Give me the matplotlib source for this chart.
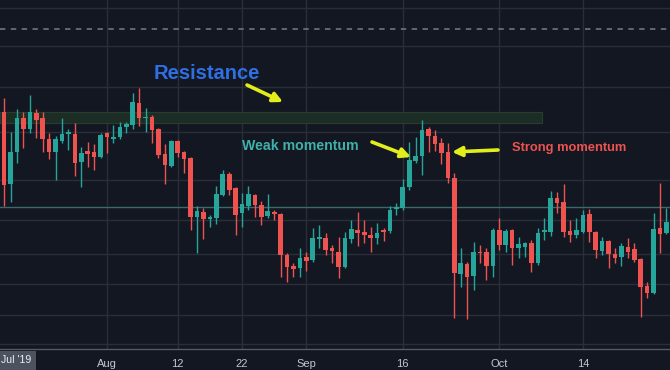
import matplotlib
matplotlib.use('Agg')
import matplotlib.pyplot as plt
import matplotlib.dates as mdates
import numpy as np
import pandas as pd

# ---------------- data (ETH/USD daily) ----------------
dates = pd.date_range('2019-07-16', periods=105, freq='D')

opens = [226.8, 201.6, 212.8, 224.7, 220.9, 226.5, 224.7, 217.4, 212.8, 216.7,
         219.1, 219.1, 209.3, 213.2, 212.8, 211.1, 219.5, 217.4, 218.1, 221.6,
         222.3, 230.0, 224.7, 225.1, 220.9, 212.1, 207.9, 216.7, 212.8, 210.7,
         190.1, 191.8, 189.4, 189.7, 197.8, 205.1, 200.2, 191.5, 193.9, 197.8,
         194.3, 190.4, 191.8, 191.1, 176.8, 172.9, 172.2, 176.1, 175.0, 182.4,
         182.7, 179.2, 177.8, 172.6, 182.4, 185.5, 184.8, 183.8, 182.7, 185.5,
         185.2, 192.9, 193.2, 200.6, 209.7, 211.4, 220.9, 218.4, 216.0, 212.8,
         203.7, 170.1, 173.6, 169.4, 177.8, 177.8, 172.9, 185.5, 180.3, 185.5,
         179.2, 179.6, 181.0, 174.0, 184.8, 184.8, 196.7, 195.3, 185.2, 183.8,
         184.8, 191.1, 184.8, 178.2, 181.7, 177.1, 176.1, 179.6, 178.9, 175.4,
         165.9, 163.5, 186.2, 184.5, 188.7]

highs = [231.7, 219.8, 227.9, 226.8, 232.8, 227.9, 226.8, 219.5, 218.4, 224.7,
         220.9, 223.0, 214.6, 216.3, 215.6, 219.5, 219.8, 222.3, 223.3, 223.3,
         233.5, 235.2, 228.2, 225.8, 221.2, 215.6, 217.0, 217.0, 213.2, 211.1,
         193.9, 193.2, 190.8, 200.9, 206.5, 205.8, 200.6, 198.5, 200.9, 198.1,
         195.7, 198.1, 192.5, 191.5, 177.5, 174.0, 179.2, 177.8, 186.2, 187.3,
         184.5, 180.3, 183.1, 184.8, 189.0, 191.8, 189.0, 186.6, 188.0, 186.2,
         193.9, 195.0, 203.4, 216.3, 218.1, 224.0, 221.6, 220.5, 217.7, 216.0,
         205.5, 179.2, 174.3, 181.3, 180.3, 179.2, 186.2, 189.7, 185.9, 185.9,
         183.1, 181.3, 182.0, 186.2, 189.7, 199.2, 198.8, 201.6, 189.0, 189.7,
         192.5, 192.9, 185.2, 183.1, 182.0, 179.2, 181.0, 182.7, 181.0, 175.7,
         167.3, 191.5, 202.0, 193.2, 193.2]

lows = [193.9, 195.3, 209.0, 214.2, 219.5, 217.7, 212.8, 210.4, 203.0, 216.0,
        213.5, 204.4, 200.6, 207.6, 206.5, 210.7, 212.5, 216.0, 217.4, 219.5,
        220.9, 221.9, 219.8, 216.0, 210.7, 201.6, 207.6, 211.1, 205.5, 185.5,
        177.5, 182.4, 186.6, 187.6, 197.4, 197.8, 183.8, 186.6, 192.5, 190.1,
        187.3, 189.7, 189.0, 169.1, 167.3, 169.1, 169.1, 171.2, 174.3, 179.2,
        176.8, 174.0, 168.7, 172.2, 181.0, 179.9, 181.0, 177.8, 180.6, 181.7,
        184.5, 190.8, 192.5, 199.5, 209.0, 204.8, 212.8, 213.2, 208.6, 202.0,
        154.7, 165.6, 154.4, 164.5, 174.0, 168.0, 169.1, 178.5, 177.8, 173.3,
        175.7, 176.1, 170.8, 173.3, 182.0, 183.4, 191.5, 183.1, 181.3, 182.7,
        184.5, 181.3, 175.7, 176.8, 172.2, 174.0, 172.9, 175.7, 174.3, 155.1,
        161.7, 163.1, 177.5, 184.1, 185.5]

closes = [201.3, 212.8, 224.7, 220.9, 226.8, 224.0, 217.4, 212.8, 217.4, 219.1,
          219.8, 209.0, 212.5, 212.1, 211.1, 218.8, 218.1, 218.1, 221.6, 222.6,
          230.3, 224.7, 225.1, 220.5, 211.8, 208.3, 216.7, 212.5, 210.4, 190.1,
          192.2, 189.4, 190.1, 198.1, 205.1, 199.5, 190.8, 194.6, 198.1, 194.3,
          190.1, 192.2, 191.1, 176.8, 172.6, 171.9, 175.7, 174.7, 182.7, 183.1,
          178.5, 178.2, 172.6, 182.7, 185.9, 184.5, 183.8, 182.7, 184.5, 184.8,
          192.5, 193.6, 200.6, 210.0, 211.4, 220.5, 218.4, 215.6, 212.5, 203.7,
          170.5, 174.0, 169.1, 177.8, 177.5, 172.9, 185.5, 180.3, 185.2, 179.2,
          180.6, 181.0, 174.0, 184.5, 185.5, 196.7, 195.0, 184.8, 183.8, 185.5,
          190.8, 184.8, 178.5, 181.7, 177.1, 175.7, 179.9, 177.8, 175.0, 165.6,
          163.5, 185.9, 184.1, 188.3, 185.9]

tick_dates = ['2019-08-01', '2019-08-12', '2019-08-22', '2019-09-01',
              '2019-09-16', '2019-10-01', '2019-10-14']
tick_labels = ['Aug', '12', '22', 'Sep', '16', 'Oct', '14']

grid_levels = [263.2, 249.9, 235.55, 219.8, 203.0, 189.0, 177.1, 166.6, 155.75, 145.6]
support_level = 193.6
dashed_level = 255.85
resistance_low, resistance_high = 222.8, 226.8
resistance_end = '2019-10-07 15:00'

# ---------------- style ----------------
BG = '#131722'
GRID = '#2a2e39'
UP = '#26a69a'
DOWN = '#ef5350'
YELLOW = '#e2ee1c'
FONT = ['Liberation Sans', 'DejaVu Sans']

fig = plt.figure(figsize=(6.7, 3.7), dpi=100, facecolor=BG)
ax = fig.add_axes([0, 21 / 370, 1, 349 / 370])
ax.set_facecolor(BG)

x = mdates.date2num(dates)
o = np.array(opens); h = np.array(highs); l = np.array(lows); c = np.array(closes)
up = c >= o
cols = np.where(up, UP, DOWN)

aug1 = mdates.date2num(pd.Timestamp('2019-08-01'))
ax.set_xlim(aug1 - 16.64, aug1 + 87.55)
ax.set_ylim(143.85, 266.0)

# grid
for g in grid_levels:
    ax.axhline(g, color=GRID, lw=1.0, zorder=0)
tx = mdates.date2num(pd.to_datetime(tick_dates))
for t in tx:
    ax.axvline(t, color=GRID, lw=1.0, zorder=0)

# resistance band
ax.fill_between([ax.get_xlim()[0], mdates.date2num(pd.Timestamp(resistance_end))],
                resistance_low, resistance_high, facecolor='#1b2d25', zorder=1,
                edgecolor='#263d30', lw=0.8)

# support + dashed lines
ax.axhline(support_level, color='#3b6a6c', lw=1.0, zorder=1)
ax.axhline(dashed_level, color='#6a6d77', lw=1.3, ls=(0, (3, 3)), zorder=1)

# candles
ax.vlines(x, l, h, colors=cols, lw=1.0, zorder=3)
bottoms = np.minimum(o, c)
heights = np.maximum(np.abs(c - o), 0.35)
ax.bar(x, heights, bottom=bottoms, width=0.72, color=cols, lw=0, zorder=4)

# axes styling
for s in ['top', 'left', 'right']:
    ax.spines[s].set_visible(False)
ax.spines['bottom'].set_color('#555964')
ax.spines['bottom'].set_linewidth(1.0)
ax.set_yticks([])
ax.set_xticks(tx)
ax.set_xticklabels(tick_labels, color='#c3c6ce', fontsize=8, family=FONT)
ax.tick_params(axis='x', length=0, pad=7.5)

fig.text(0.001, 0.026, "Jul '19", color='#eceef2', fontsize=7.6,
         family=FONT, ha='left', va='center',
         bbox=dict(boxstyle='square,pad=0.45', fc='#4c525e', ec='none'))

# annotations
ax.text(0.309, 0.788, 'Resistance', transform=ax.transAxes, color='#2f6fe3',
        fontsize=14.5, fontweight='bold', family=FONT,
        ha='center', va='center', zorder=6)
ax.text(0.448, 0.582, 'Weak momentum', transform=ax.transAxes, color='#3fb1a8',
        fontsize=10.2, fontweight='bold', family=FONT,
        ha='center', va='center', zorder=6)
ax.text(0.849, 0.576, 'Strong momentum', transform=ax.transAxes, color='#ef5350',
        fontsize=9.3, fontweight='bold', family=FONT,
        ha='center', va='center', zorder=6)

arrows = [((0.3687, 0.7564), (0.4224, 0.7077)),
          ((0.5552, 0.5931), (0.6134, 0.5501)),
          ((0.7433, 0.5702), (0.6746, 0.5645))]
for tail, head in arrows:
    ax.annotate('', xy=head, xytext=tail, xycoords='axes fraction',
                textcoords='axes fraction',
                arrowprops=dict(arrowstyle='-|>', color=YELLOW, lw=2.6,
                                mutation_scale=14, shrinkA=0, shrinkB=0),
                zorder=7)

fig.savefig('out.png', dpi=100, facecolor=BG)
